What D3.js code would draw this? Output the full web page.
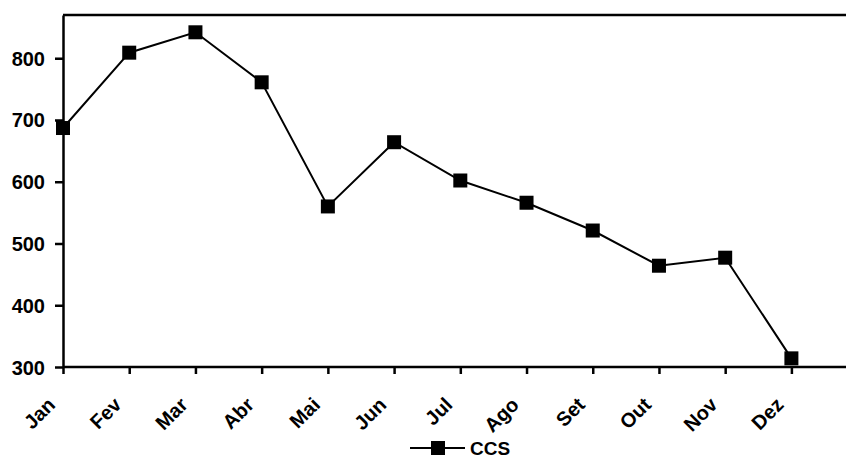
<!DOCTYPE html>
<html lang="pt">
<head>
<meta charset="utf-8">
<style>
  body { margin: 0; background: #fff; }
  text { font-family: "Liberation Sans", Arial, sans-serif; font-weight: bold; fill: #000; }
</style>
</head>
<body>
<script src="https://d3js.org/d3.v7.min.js"></script>
<script>
  const months = ["Jan", "Fev", "Mar", "Abr", "Mai", "Jun", "Jul", "Ago", "Set", "Out", "Nov", "Dez"];
  const ccs = [687, 809, 842, 761, 560, 664, 602, 566, 521, 464, 477, 314];
  const yTicks = [300, 400, 500, 600, 700, 800];
  const seriesName = "CCS";

  const width = 846, height = 458;
  const plotLeft = 63, plotTop = 15, plotBottom = 367;

  const svg = d3.select("body").append("svg")
    .attr("width", width)
    .attr("height", height);

  const x = d3.scalePoint()
    .domain(months)
    .range([plotLeft, 791.4]);

  const y = d3.scaleLinear()
    .domain([300, 870])
    .range([plotBottom, plotTop]);

  // plot area top border
  svg.append("line")
    .attr("x1", plotLeft).attr("x2", width)
    .attr("y1", y(870)).attr("y2", y(870))
    .attr("stroke", "#000").attr("stroke-width", 2.5);

  // y axis
  const yAxis = svg.append("g")
    .attr("transform", `translate(${plotLeft},0)`)
    .call(d3.axisLeft(y).tickValues(yTicks).tickSize(8).tickPadding(10).tickSizeOuter(0));
  yAxis.select(".domain").attr("stroke-width", 2.5);
  yAxis.selectAll(".tick line").attr("stroke-width", 2.5);
  yAxis.selectAll("text").style("font-size", "20px").attr("dy", "0.35em");

  // x axis
  const xAxis = svg.append("g")
    .attr("transform", `translate(0,${plotBottom})`)
    .call(d3.axisBottom(x).tickSize(7).tickSizeOuter(0));
  xAxis.select(".domain").attr("d", `M${plotLeft},0H${width}`).attr("stroke-width", 2.5);
  xAxis.selectAll(".tick line").attr("stroke-width", 2.5);
  xAxis.selectAll("text")
    .style("font-size", "20px")
    .attr("text-anchor", "end")
    .attr("dy", null)
    .attr("y", 0)
    .attr("transform", "translate(-7,39) rotate(-45)");

  // series line
  const pts = months.map((m, i) => ({ m, v: ccs[i] }));
  svg.append("path")
    .datum(pts)
    .attr("fill", "none")
    .attr("stroke", "#000")
    .attr("stroke-width", 2)
    .attr("d", d3.line().x(d => x(d.m)).y(d => y(d.v)));

  const ms = 14;
  svg.selectAll("rect.marker")
    .data(pts)
    .join("rect")
    .attr("class", "marker")
    .attr("x", d => x(d.m) - ms / 2)
    .attr("y", d => y(d.v) - ms / 2)
    .attr("width", ms).attr("height", ms)
    .attr("fill", "#000");

  // legend
  const lg = svg.append("g").attr("transform", "translate(410,448)");
  lg.append("line").attr("x1", 0).attr("x2", 55).attr("y1", 0).attr("y2", 0)
    .attr("stroke", "#000").attr("stroke-width", 2);
  lg.append("rect").attr("x", 28 - ms / 2).attr("y", -ms / 2)
    .attr("width", ms).attr("height", ms).attr("fill", "#000");
  lg.append("text").attr("x", 60).attr("y", 6.5)
    .style("font-size", "19px").text(seriesName);
</script>
</body>
</html>
